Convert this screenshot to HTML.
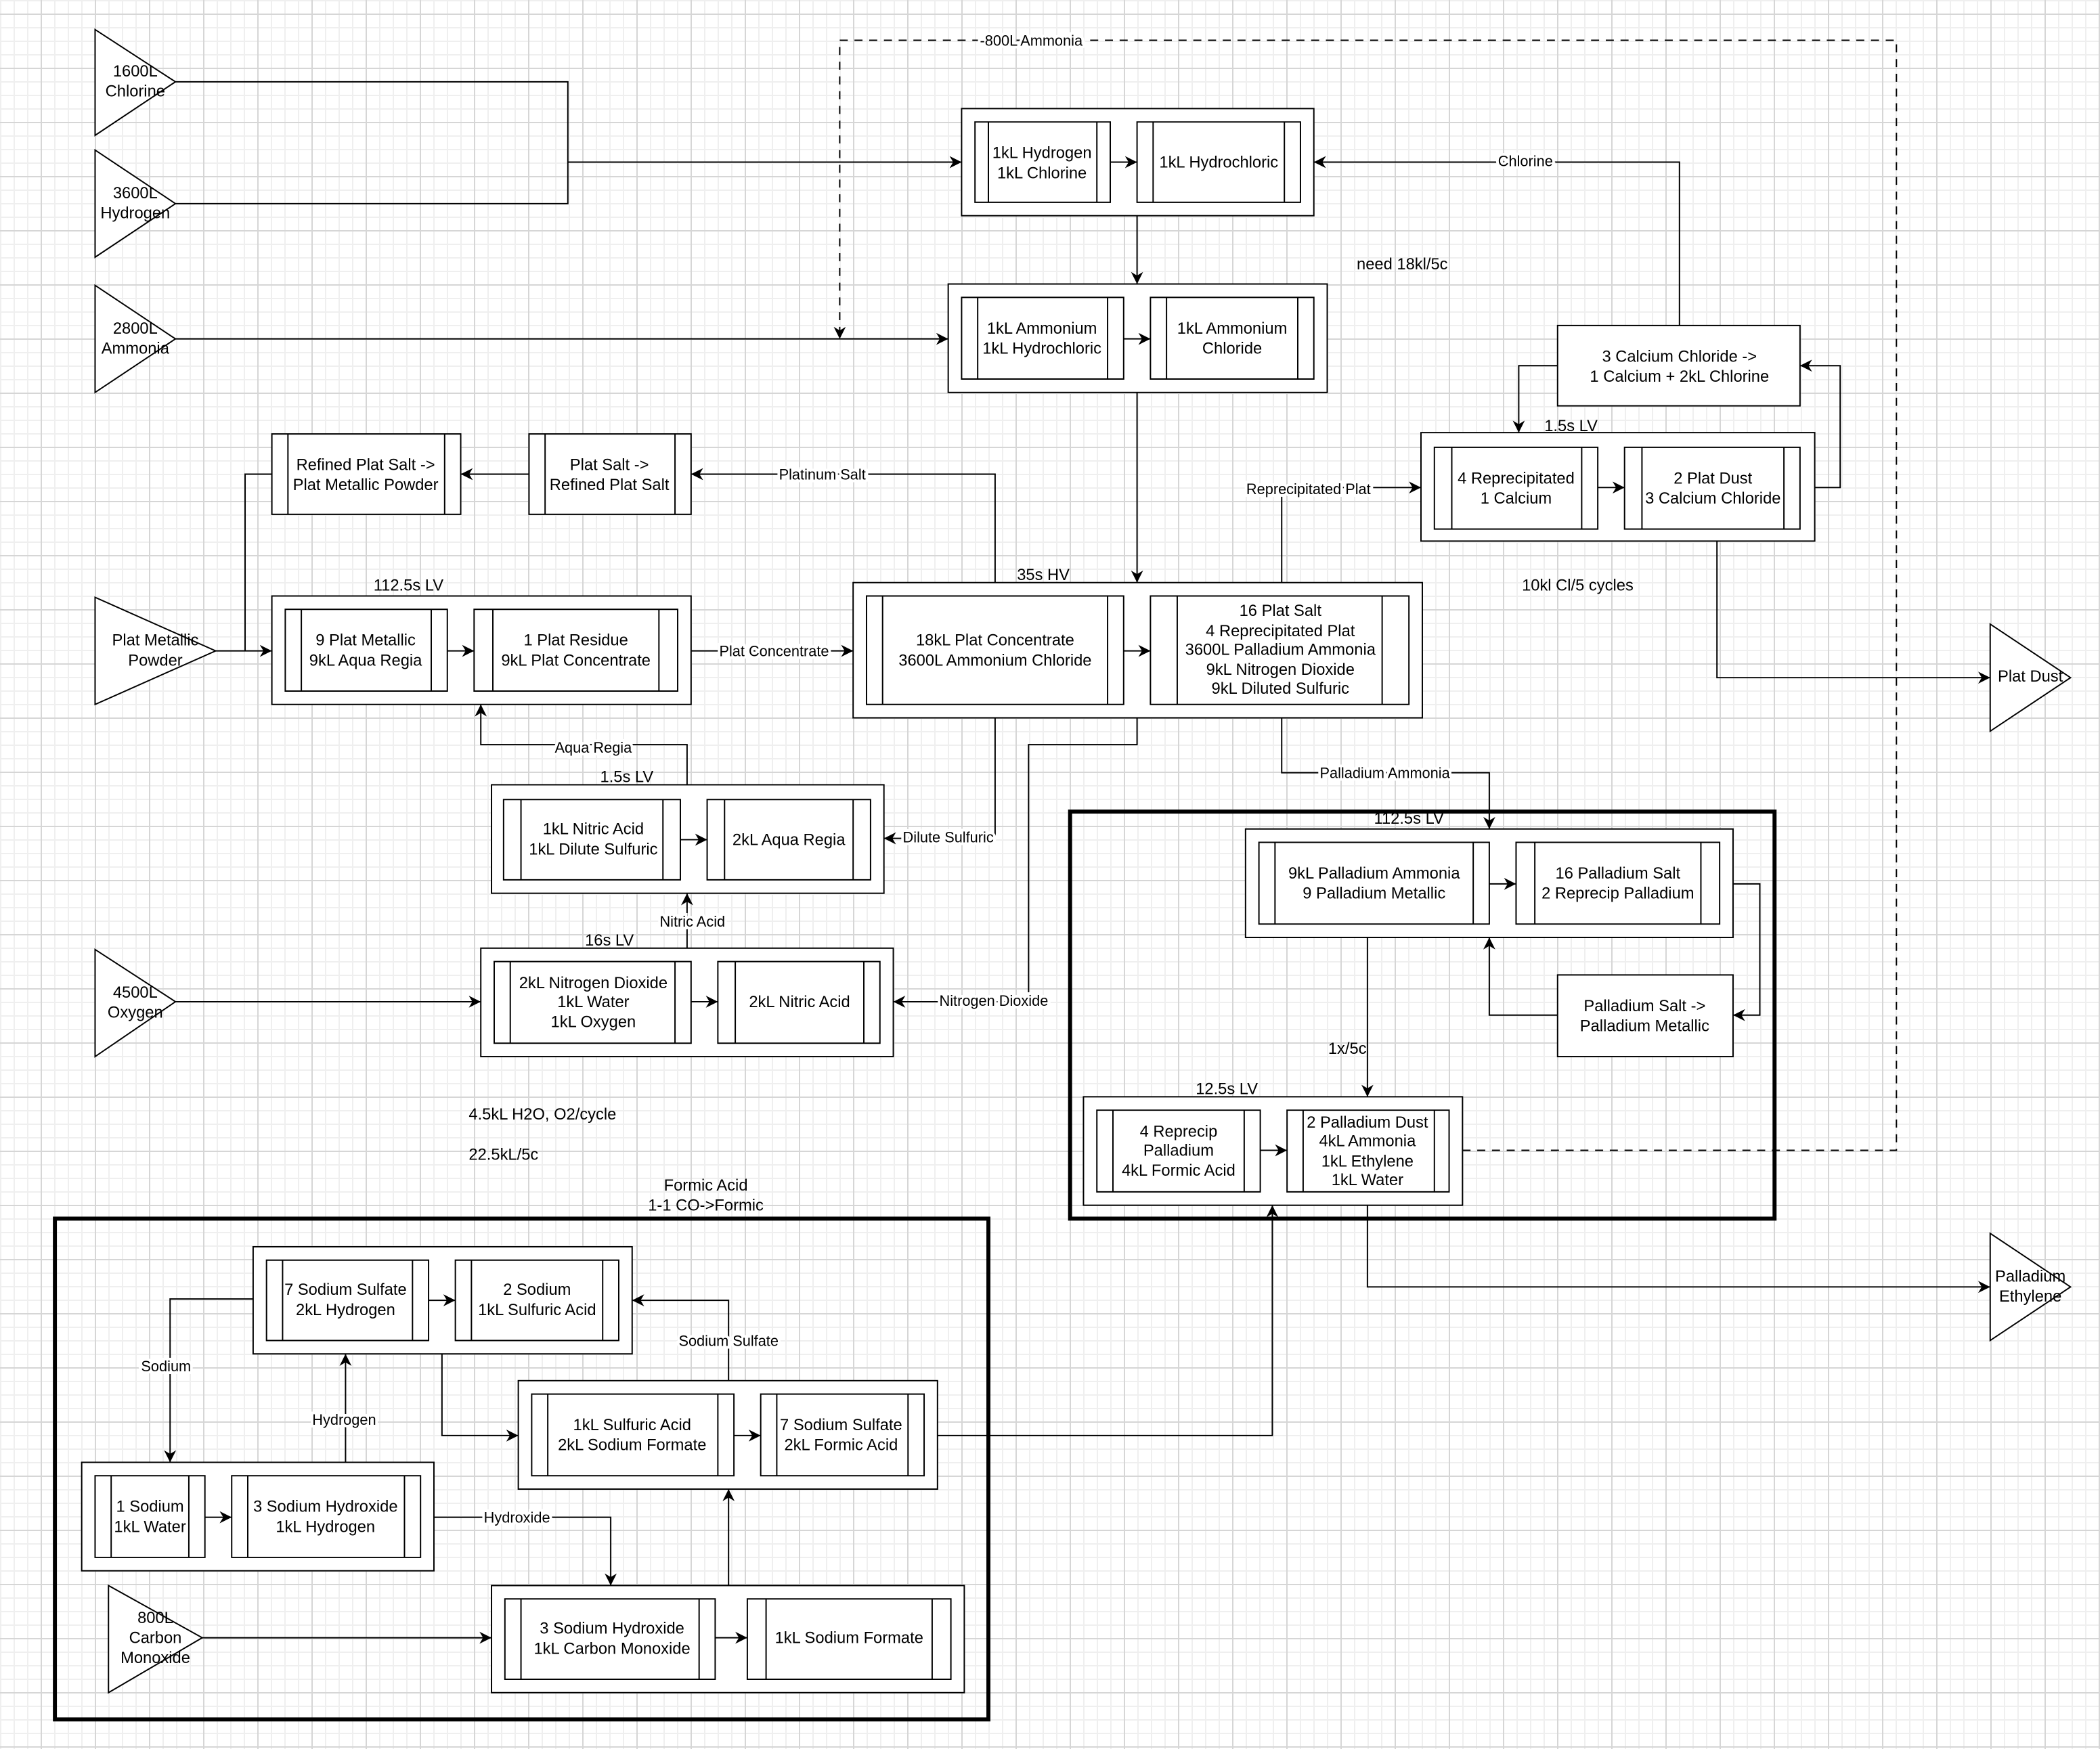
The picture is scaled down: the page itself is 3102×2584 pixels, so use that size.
<!DOCTYPE html>
<html><head><meta charset="utf-8"><style>
html,body{margin:0;padding:0}
body{width:3102px;height:2584px;overflow:hidden;background-color:#fff;
background-image:
linear-gradient(to right,#d6d6d6 0,#d6d6d6 2px,transparent 2px),
linear-gradient(to bottom,#d6d6d6 0,#d6d6d6 2px,transparent 2px),
linear-gradient(to right,#efefef 0,#efefef 2px,transparent 2px),
linear-gradient(to bottom,#efefef 0,#efefef 2px,transparent 2px);
background-size:80px 80px,80px 80px,20px 20px,20px 20px;
background-position:60px 0,0 20px,0 0,0 0;}
svg{position:absolute;left:0;top:0}
text{font-family:"Liberation Sans",sans-serif;font-size:12px;fill:#000;text-anchor:middle}
.l{font-size:11px;stroke:#fff;stroke-width:4px;paint-order:stroke}
.ln{fill:none;stroke:#000;stroke-width:1}
.b{fill:#fff;stroke:#000;stroke-width:1}
</style></head><body>
<svg width="3102" height="2584" viewBox="0 0 1568 1306">
<defs><marker id="a" viewBox="0 0 10 10" refX="10" refY="5" markerWidth="9" markerHeight="9" markerUnits="userSpaceOnUse" orient="auto"><path d="M0,0 L10,5 L0,10 L3,5 z" fill="#000"/></marker></defs>
<g class="ln">
<!-- inputs -->
<polyline points="131,61 424,61 424,152 131,152"/>
<line x1="424" y1="121" x2="718" y2="121" marker-end="url(#a)"/>
<line x1="131" y1="253" x2="708" y2="253" marker-end="url(#a)"/>
<polyline points="1092,859 1416,859 1416,30 627,30 627,253" stroke-dasharray="6,5" marker-end="url(#a)"/>
<line x1="849" y1="161" x2="849" y2="212" marker-end="url(#a)"/>
<polyline points="1254,243 1254,121 981,121" marker-end="url(#a)"/>
<polyline points="1163,273 1134,273 1134,323" marker-end="url(#a)"/>
<polyline points="1344,364 1374,364 1374,273 1344,273" marker-end="url(#a)"/>
<polyline points="957,435 957,364 1061,364" marker-end="url(#a)"/>
<polyline points="1282,395 1282,506 1486,506" marker-end="url(#a)"/>
<line x1="849" y1="293" x2="849" y2="435" marker-end="url(#a)"/>
<polyline points="743,435 743,354 516,354" marker-end="url(#a)"/>
<line x1="395" y1="354" x2="344" y2="354" marker-end="url(#a)"/>
<polyline points="203,354 183,354 183,486"/>
<line x1="161" y1="486" x2="203" y2="486" marker-end="url(#a)"/>
<line x1="516" y1="486" x2="637" y2="486" marker-end="url(#a)"/>
<polyline points="513,586 513,556 359,556 359,526" marker-end="url(#a)"/>
<polyline points="743,536 743,626 660,626" marker-end="url(#a)"/>
<line x1="513" y1="708" x2="513" y2="667" marker-end="url(#a)"/>
<line x1="131" y1="748" x2="359" y2="748" marker-end="url(#a)"/>
<polyline points="849,536 849,556 768,556 768,748 667,748" marker-end="url(#a)"/>
<polyline points="957,536 957,577 1112,577 1112,619" marker-end="url(#a)"/>
<polyline points="1294,660 1314,660 1314,758 1294,758" marker-end="url(#a)"/>
<polyline points="1163,758 1112,758 1112,700" marker-end="url(#a)"/>
<line x1="1021" y1="700" x2="1021" y2="819" marker-end="url(#a)"/>
<polyline points="1021,900 1021,961 1486,961" marker-end="url(#a)"/>
<polyline points="189,970 127,970 127,1092" marker-end="url(#a)"/>
<line x1="258" y1="1092" x2="258" y2="1011" marker-end="url(#a)"/>
<polyline points="324,1133 456,1133 456,1184" marker-end="url(#a)"/>
<line x1="151" y1="1223" x2="367" y2="1223" marker-end="url(#a)"/>
<line x1="544" y1="1184" x2="544" y2="1112" marker-end="url(#a)"/>
<polyline points="544,1031 544,971 472,971" marker-end="url(#a)"/>
<polyline points="330,1011 330,1072 387,1072" marker-end="url(#a)"/>
<polyline points="700,1072 950,1072 950,900" marker-end="url(#a)"/>
</g>
<!-- thick containers -->
<rect x="799" y="606" width="526" height="304" fill="none" stroke="#000" stroke-width="3"/>
<rect x="41" y="910" width="697" height="374" fill="none" stroke="#000" stroke-width="3"/>
<!-- triangles -->
<g class="b">
<polygon points="71,22 131,61 71,101"/>
<polygon points="71,112 131,152 71,192"/>
<polygon points="71,213 131,253 71,293"/>
<polygon points="71,446 161,486 71,526"/>
<polygon points="71,709 131,748 71,789"/>
<polygon points="81,1184 151,1223 81,1264"/>
<polygon points="1486,466 1546,506 1486,546"/>
<polygon points="1486,921 1546,961 1486,1001"/>
</g>
<g class="b">
<!-- outer boxes -->
<rect x="718" y="81" width="263" height="80"/>
<rect x="708" y="212" width="283" height="81"/>
<rect x="1061" y="323" width="294" height="81"/>
<rect x="637" y="435" width="425" height="101"/>
<rect x="203" y="445" width="313" height="81"/>
<rect x="367" y="586" width="293" height="81"/>
<rect x="359" y="708" width="308" height="81"/>
<rect x="930" y="619" width="364" height="81"/>
<rect x="809" y="819" width="283" height="81"/>
<rect x="189" y="931" width="283" height="80"/>
<rect x="61" y="1092" width="263" height="81"/>
<rect x="367" y="1184" width="353" height="80"/>
<rect x="387" y="1031" width="313" height="81"/>
<!-- plain boxes -->
<rect x="1163" y="243" width="181" height="60"/>
<rect x="1163" y="728" width="131" height="61"/>
</g>
<g class="b">
<!-- process boxes: rect + bars -->
<path d="M728,91h101v60h-101z M738,91v60 M819,91v60"/>
<path d="M849,91h122v60h-122z M861,91v60 M959,91v60"/>
<path d="M718,222h121v61h-121z M730,222v61 M827,222v61"/>
<path d="M859,222h122v61h-122z M871,222v61 M969,222v61"/>
<path d="M1071,334h122v61h-122z M1084,334v61 M1181,334v61"/>
<path d="M1213,334h131v61h-131z M1226,334v61 M1332,334v61"/>
<path d="M647,445h192v81h-192z M659,445v81 M827,445v81"/>
<path d="M859,445h193v81h-193z M879,445v81 M1032,445v81"/>
<path d="M395,324h121v60h-121z M407,324v60 M504,324v60"/>
<path d="M203,324h141v60h-141z M215,324v60 M332,324v60"/>
<path d="M213,455h121v61h-121z M225,455v61 M322,455v61"/>
<path d="M354,455h152v61h-152z M368,455v61 M492,455v61"/>
<path d="M376,597h132v60h-132z M389,597v60 M495,597v60"/>
<path d="M528,597h122v60h-122z M541,597v60 M637,597v60"/>
<path d="M369,718h147v61h-147z M381,718v61 M504,718v61"/>
<path d="M536,718h121v61h-121z M549,718v61 M645,718v61"/>
<path d="M940,629h172v61h-172z M952,629v61 M1100,629v61"/>
<path d="M1132,629h152v61h-152z M1146,629v61 M1270,629v61"/>
<path d="M819,829h122v61h-122z M831,829v61 M929,829v61"/>
<path d="M961,829h121v61h-121z M973,829v61 M1071,829v61"/>
<path d="M199,941h121v60h-121z M211,941v60 M308,941v60"/>
<path d="M340,941h122v60h-122z M352,941v60 M450,941v60"/>
<path d="M71,1102h82v61h-82z M83,1102v61 M141,1102v61"/>
<path d="M173,1102h141v61h-141z M185,1102v61 M302,1102v61"/>
<path d="M377,1194h157v60h-157z M389,1194v60 M522,1194v60"/>
<path d="M558,1194h152v60h-152z M572,1194v60 M696,1194v60"/>
<path d="M397,1041h151v61h-151z M409,1041v61 M536,1041v61"/>
<path d="M568,1041h122v61h-122z M580,1041v61 M678,1041v61"/>
</g>
<g class="ln">
<line x1="829" y1="121" x2="849" y2="121" marker-end="url(#a)"/>
<line x1="839" y1="253" x2="859" y2="253" marker-end="url(#a)"/>
<line x1="1193" y1="364" x2="1213" y2="364" marker-end="url(#a)"/>
<line x1="839" y1="486" x2="859" y2="486" marker-end="url(#a)"/>
<line x1="334" y1="486" x2="354" y2="486" marker-end="url(#a)"/>
<line x1="508" y1="627" x2="528" y2="627" marker-end="url(#a)"/>
<line x1="516" y1="748" x2="536" y2="748" marker-end="url(#a)"/>
<line x1="1112" y1="660" x2="1132" y2="660" marker-end="url(#a)"/>
<line x1="941" y1="859" x2="961" y2="859" marker-end="url(#a)"/>
<line x1="320" y1="971" x2="340" y2="971" marker-end="url(#a)"/>
<line x1="153" y1="1133" x2="173" y2="1133" marker-end="url(#a)"/>
<line x1="534" y1="1223" x2="558" y2="1223" marker-end="url(#a)"/>
<line x1="548" y1="1072" x2="568" y2="1072" marker-end="url(#a)"/>
</g>
<!-- triangle labels -->
<text x="101" y="57">1600L</text><text x="101" y="72">Chlorine</text>
<text x="101" y="148">3600L</text><text x="101" y="163">Hydrogen</text>
<text x="101" y="249">2800L</text><text x="101" y="264">Ammonia</text>
<text x="116" y="482">Plat Metallic</text><text x="116" y="497">Powder</text>
<text x="101" y="745">4500L</text><text x="101" y="760">Oxygen</text>
<text x="116" y="1212">800L</text><text x="116" y="1227">Carbon</text><text x="116" y="1242">Monoxide</text>
<text x="1516" y="509">Plat Dust</text>
<text x="1516" y="957">Palladium</text><text x="1516" y="972">Ethylene</text>
<!-- box labels -->
<text x="778" y="118">1kL Hydrogen</text><text x="778" y="133">1kL Chlorine</text>
<text x="910" y="125">1kL Hydrochloric</text>
<text x="778" y="249">1kL Ammonium</text><text x="778" y="264">1kL Hydrochloric</text>
<text x="920" y="249">1kL Ammonium</text><text x="920" y="264">Chloride</text>
<text x="1254" y="270">3 Calcium Chloride -&gt;</text><text x="1254" y="285">1 Calcium + 2kL Chlorine</text>
<text x="1132" y="361">4 Reprecipitated</text><text x="1132" y="376">1 Calcium</text>
<text x="1279" y="361">2 Plat Dust</text><text x="1279" y="376">3 Calcium Chloride</text>
<text x="743" y="482">18kL Plat Concentrate</text><text x="743" y="497">3600L Ammonium Chloride</text>
<text x="956" y="460">16 Plat Salt</text><text x="956" y="475">4 Reprecipitated Plat</text><text x="956" y="489">3600L Palladium Ammonia</text><text x="956" y="504">9kL Nitrogen Dioxide</text><text x="956" y="518">9kL Diluted Sulfuric</text>
<text x="455" y="351">Plat Salt -&gt;</text><text x="455" y="366">Refined Plat Salt</text>
<text x="273" y="351">Refined Plat Salt -&gt;</text><text x="273" y="366">Plat Metallic Powder</text>
<text x="273" y="482">9 Plat Metallic</text><text x="273" y="497">9kL Aqua Regia</text>
<text x="430" y="482">1 Plat Residue</text><text x="430" y="497">9kL Plat Concentrate</text>
<text x="443" y="623">1kL Nitric Acid</text><text x="443" y="638">1kL Dilute Sulfuric</text>
<text x="589" y="631">2kL Aqua Regia</text>
<text x="443" y="738">2kL Nitrogen Dioxide</text><text x="443" y="752">1kL Water</text><text x="443" y="767">1kL Oxygen</text>
<text x="597" y="752">2kL Nitric Acid</text>
<text x="1026" y="656">9kL Palladium Ammonia</text><text x="1026" y="671">9 Palladium Metallic</text>
<text x="1208" y="656">16 Palladium Salt</text><text x="1208" y="671">2 Reprecip Palladium</text>
<text x="1228" y="755">Palladium Salt -&gt;</text><text x="1228" y="770">Palladium Metallic</text>
<text x="880" y="849">4 Reprecip</text><text x="880" y="863">Palladium</text><text x="880" y="878">4kL Formic Acid</text>
<text x="1021" y="842">2 Palladium Dust</text><text x="1021" y="856">4kL Ammonia</text><text x="1021" y="871">1kL Ethylene</text><text x="1021" y="885">1kL Water</text>
<text x="258" y="967">7 Sodium Sulfate</text><text x="258" y="982">2kL Hydrogen</text>
<text x="401" y="967">2 Sodium</text><text x="401" y="982">1kL Sulfuric Acid</text>
<text x="112" y="1129">1 Sodium</text><text x="112" y="1144">1kL Water</text>
<text x="243" y="1129">3 Sodium Hydroxide</text><text x="243" y="1144">1kL Hydrogen</text>
<text x="457" y="1220">3 Sodium Hydroxide</text><text x="457" y="1235">1kL Carbon Monoxide</text>
<text x="634" y="1227">1kL Sodium Formate</text>
<text x="472" y="1068">1kL Sulfuric Acid</text><text x="472" y="1083">2kL Sodium Formate</text>
<text x="628" y="1068">7 Sodium Sulfate</text><text x="628" y="1083">2kL Formic Acid</text>
<!-- free labels -->
<text x="779" y="433">35s HV</text>
<text x="1173" y="322">1.5s LV</text>
<text x="305" y="441">112.5s LV</text>
<text x="468" y="584">1.5s LV</text>
<text x="455" y="706">16s LV</text>
<text x="1052" y="615">112.5s LV</text>
<text x="916" y="817">12.5s LV</text>
<text x="1047" y="201">need 18kl/5c</text>
<text x="1178" y="441">10kl Cl/5 cycles</text>
<text x="350" y="836" style="text-anchor:start">4.5kL H2O, O2/cycle</text>
<text x="350" y="866" style="text-anchor:start">22.5kL/5c</text>
<text x="527" y="889">Formic Acid</text><text x="527" y="904">1-1 CO-&gt;Formic</text>
<text x="1006" y="787">1x/5c</text>
<!-- edge labels -->
<text class="l" x="770" y="34">-800L Ammonia</text>
<text class="l" x="1139" y="124">Chlorine</text>
<text class="l" x="977" y="369">Reprecipitated Plat</text>
<text class="l" x="614" y="358">Platinum Salt</text>
<text class="l" x="578" y="490">Plat Concentrate</text>
<text class="l" x="443" y="562">Aqua Regia</text>
<text class="l" x="708" y="629">Dilute Sulfuric</text>
<text class="l" x="517" y="692">Nitric Acid</text>
<text class="l" x="742" y="751">Nitrogen Dioxide</text>
<text class="l" x="1034" y="581">Palladium Ammonia</text>
<text class="l" x="124" y="1024">Sodium</text>
<text class="l" x="257" y="1064">Hydrogen</text>
<text class="l" x="386" y="1137">Hydroxide</text>
<text class="l" x="544" y="1005">Sodium Sulfate</text>
</svg>
</body></html>
